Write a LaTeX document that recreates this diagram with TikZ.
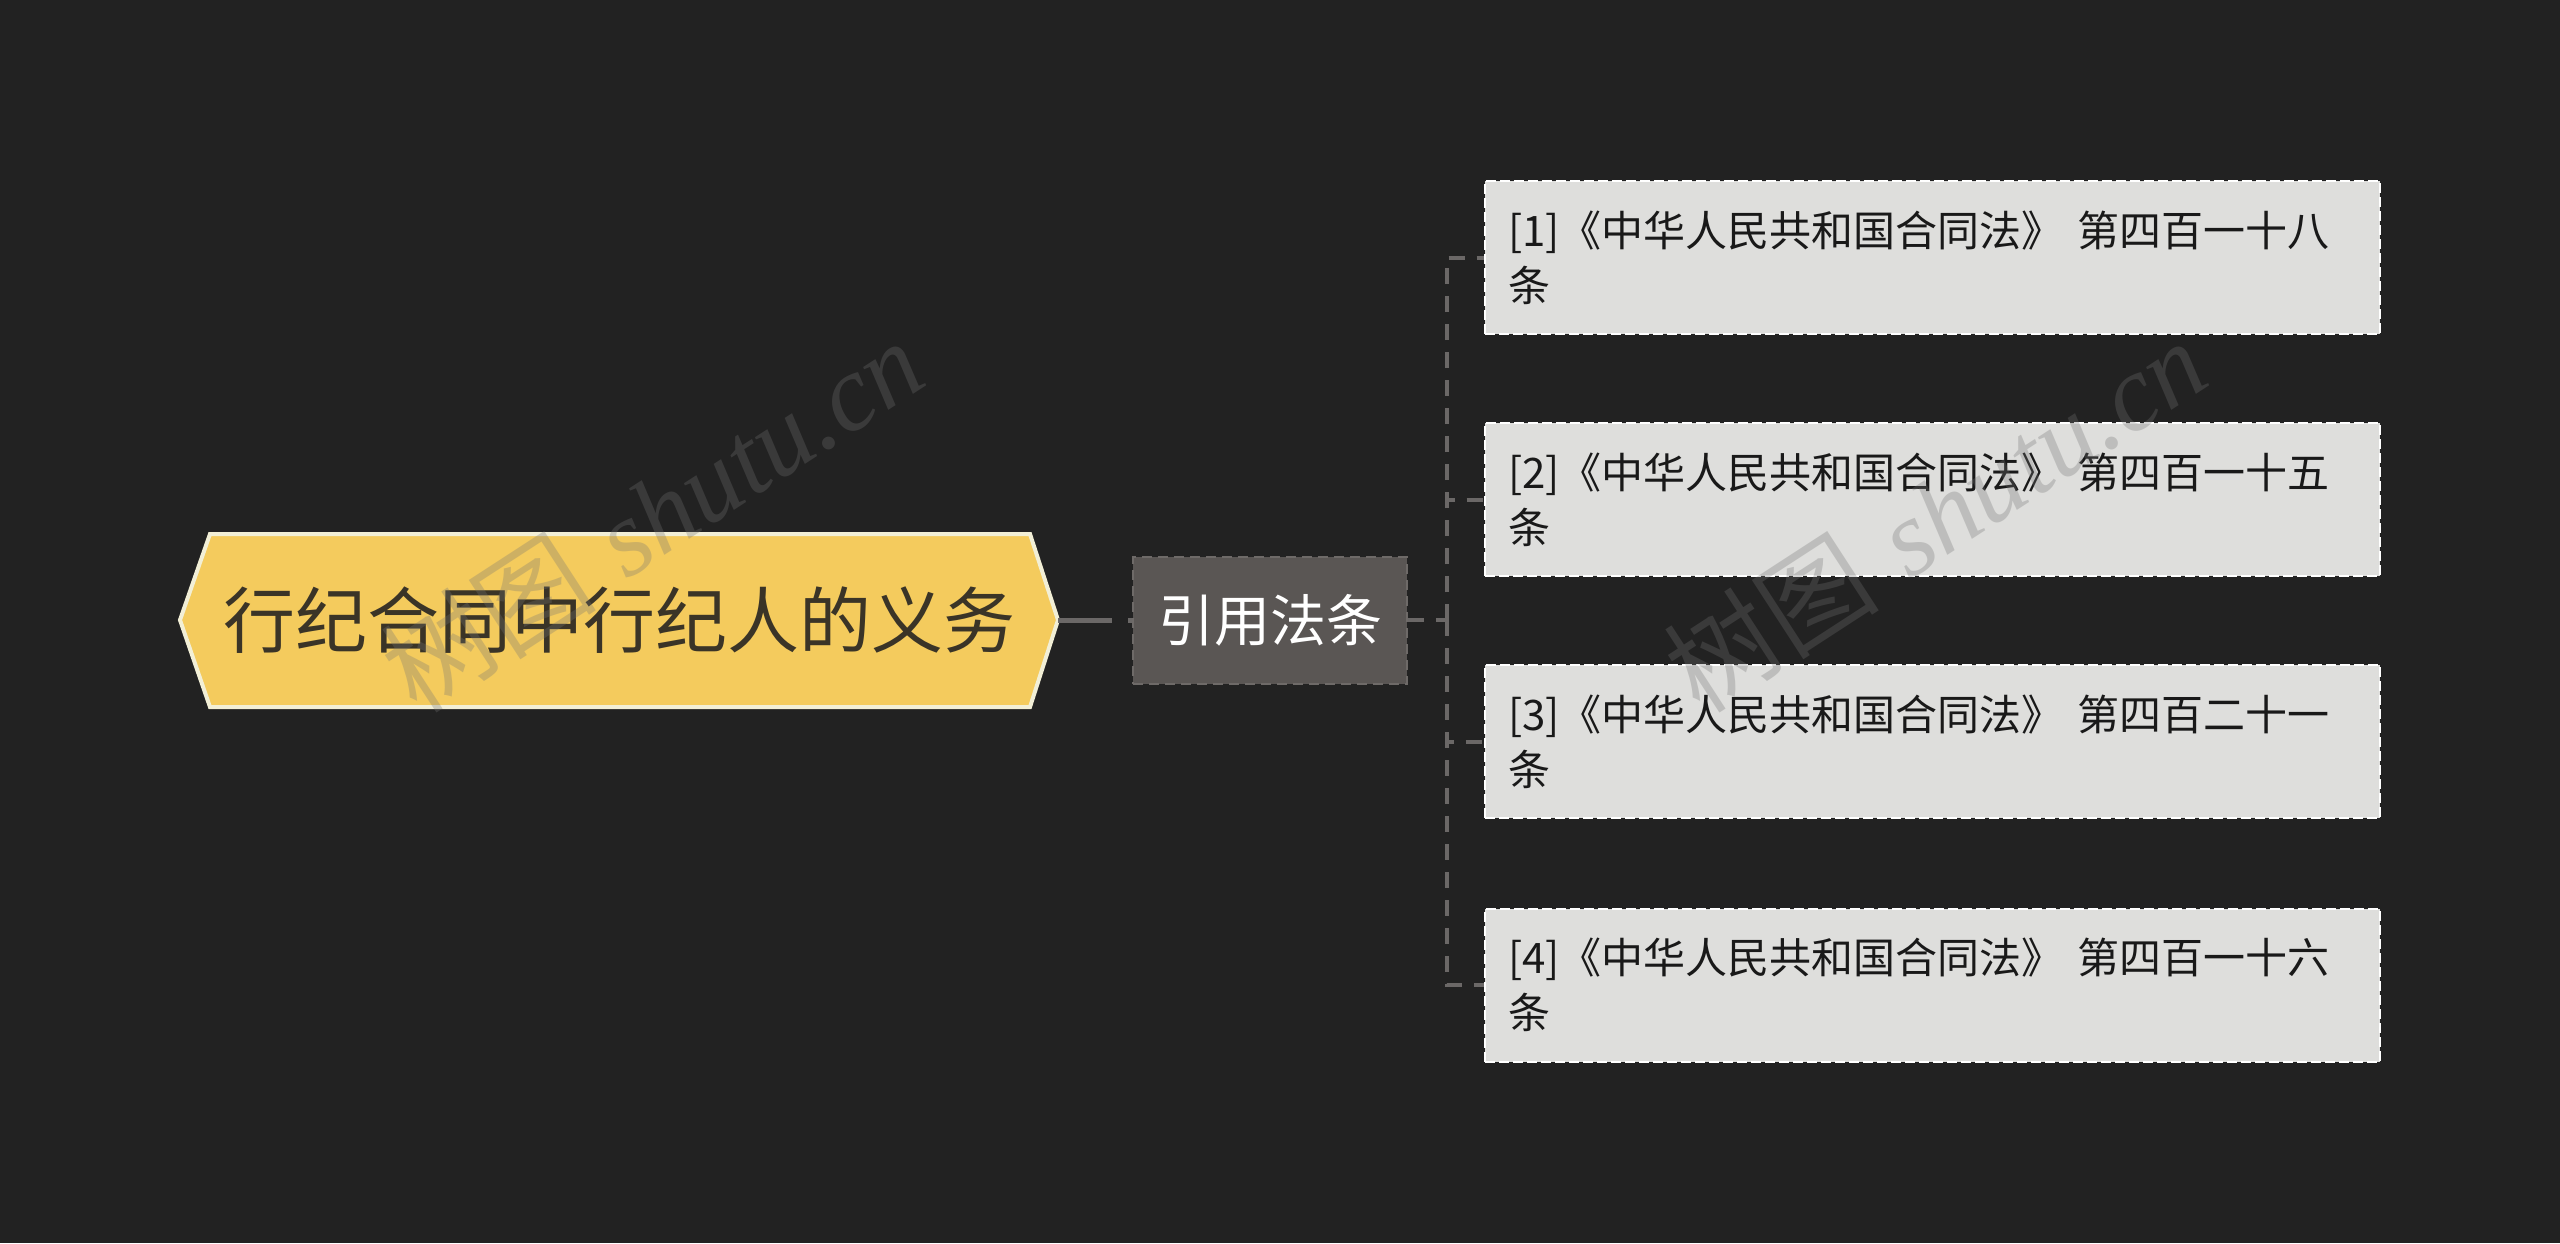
\documentclass[tikz,border=0pt]{standalone}
\usepackage{fontspec}
\newfontfamily\cjk{Noto Sans CJK SC}
\newfontfamily\wmserif{Liberation Serif}
\definecolor{bgc}{HTML}{222222}
\definecolor{rootfill}{HTML}{F4CB5D}
\definecolor{rootline}{HTML}{F2EFD6}
\definecolor{roottext}{HTML}{3A3427}
\definecolor{midfill}{HTML}{5A5654}
\definecolor{midline}{HTML}{6E6A68}
\definecolor{leaffill}{HTML}{DEDEDC}
\definecolor{conncol}{HTML}{6B6867}
\tikzset{
  roottxt/.style={inner sep=0pt, minimum width=439pt, minimum height=86.5pt, text=roottext, font=\cjk\fontsize{36}{40}\selectfont},
  midbox/.style={fill=midfill, draw=midline, line width=1pt, dash pattern=on 5pt off 3pt, minimum width=137pt, minimum height=63.5pt, inner sep=0pt, text=white, font=\cjk\fontsize{28}{32}\selectfont},
  leafbox/.style={fill=leaffill, draw=white, line width=1pt, dash pattern=on 5pt off 2pt, minimum width=447.5pt, minimum height=76.5pt, inner sep=11.5pt, text width=424.5pt, align=left, text=black!90, font=\cjk\fontsize{21}{27.5}\selectfont},
  conn/.style={draw=conncol, line width=2pt, dash pattern=on 8pt off 6pt},
  rootconn/.style={draw=conncol, line width=2.5pt, dash pattern=on 27pt off 8pt},
  wm/.style={text=gray!90!black, text opacity=0.3, rotate=33, inner sep=0pt, font=\fontsize{54}{60}\selectfont}
}
\begin{document}
\begin{tikzpicture}[x=0.5pt,y=-0.5pt]
\fill[bgc] (0,0) rectangle (2560,1243);
\useasboundingbox (0,0) rectangle (2560,1243);
% root hexagon
\filldraw[fill=rootfill, draw=rootline, line width=2pt, line join=miter]
  (180,620) -- (210,534) -- (1030,534) -- (1058,620) -- (1030,707) -- (210,707) -- cycle;
\node[roottxt] (root) at (619,620) {行纪合同中行纪人的义务};
% middle
\node[midbox] (mid) at (1270,620) {引用法条};
% leaves
\node[leafbox] (b1) at (1932.5,257.5) {[1]《中华人民共和国合同法》 第四百一十八\\条};
\node[leafbox] (b2) at (1932.5,499.5) {[2]《中华人民共和国合同法》 第四百一十五\\条};
\node[leafbox] (b3) at (1932.5,741.5) {[3]《中华人民共和国合同法》 第四百二十一\\条};
\node[leafbox] (b4) at (1932.5,985) {[4]《中华人民共和国合同法》 第四百一十六\\条};
% connectors
\coordinate (jn) at (1447,620);
\draw[rootconn] (root.east) -- (mid.west);
\draw[conn] (mid.east) -- (jn);
\draw[conn] (jn) |- (b1.west);
\draw[conn] (jn) |- (b2.west);
\draw[conn] (jn) |- (b3.west);
\draw[conn] (jn) |- (b4.west);
% watermarks
\node[wm] (wm1) at (652,515) {{\cjk 树图} {\wmserif\itshape shutu.cn}};
\node[wm] (wm2) at (1935,515) {{\cjk 树图} {\wmserif\itshape shutu.cn}};
\end{tikzpicture}
\end{document}
